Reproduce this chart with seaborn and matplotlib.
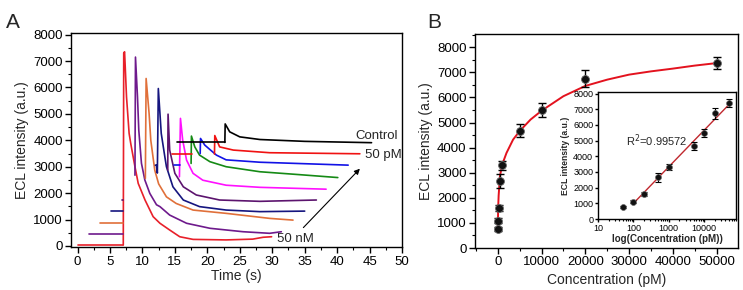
import numpy as np
import pandas as pd
import matplotlib
matplotlib.use("Agg")
import matplotlib.pyplot as plt
import seaborn as sns
from matplotlib.ticker import MultipleLocator, LogLocator, NullFormatter

# ---------------- Panel A data (time traces) ----------------
curve_colors = ["#e8202a", "#6e1a8c", "#e0703a", "#15157f", "#5c146e",
                "#ff10ff", "#158a15", "#1212e6", "#f01212", "#000000"]

# visible pre-step baselines: (start, end, level)
base_start = [0.1, 1.8, 3.4, 5.1, 6.8, None, None, 14.8, 14.5, 15.3]
base_end   = [7.05, 7.0, 7.0, 7.0, 7.0, None, None, 15.8, 17.6, 22.7]
base_level = [40, 440, 880, 1335, 1740, None, None, 3060, 3500, 3920]

t1 = [7.05, 7.12, 7.25, 7.55, 7.95, 8.2, 8.85, 9.35, 10.4, 11.65, 12.7, 14.2, 15.75, 17.8, 22.9, 27.0, 28.6, 29.9]
y1 = [40, 7300, 7350, 5640, 4260, 3880, 3000, 2370, 1740, 1110, 860, 605, 350, 250, 230, 260, 330, 350]
t2 = [8.85, 8.93, 9.24, 9.44, 9.85, 10.37, 11.14, 12.17, 12.7, 14.2, 16.8, 20.4, 25.5, 29.6, 31.4]
y2 = [2680, 7150, 5640, 4380, 3130, 2500, 1990, 1560, 1490, 1170, 860, 670, 540, 480, 540]
t3 = [10.45, 10.57, 11.03, 11.29, 11.9, 12.5, 13.7, 15.2, 17.8, 22.9, 29.6, 33.2]
y3 = [2560, 6340, 5010, 4000, 2870, 2350, 1860, 1610, 1360, 1235, 1045, 980]
t4 = [12.0, 12.15, 12.3, 12.45, 12.9, 13.45, 13.7, 14.7, 16.3, 18.8, 22.9, 28.1, 35.0]
y4 = [3060, 3060, 2760, 5960, 4260, 3380, 3000, 2240, 1740, 1490, 1360, 1300, 1320]
t5 = [13.9, 13.95, 14.2, 15.0, 16.3, 18.3, 21.9, 28.1, 36.8]
y5 = [2870, 4990, 3630, 2750, 2240, 1930, 1740, 1690, 1740]
t6 = [15.7, 15.86, 16.2, 16.8, 17.8, 19.3, 22.9, 28.1, 38.3]
y6 = [2620, 4830, 4010, 3250, 2750, 2490, 2300, 2220, 2150]
t7 = [17.5, 17.55, 18.07, 18.8, 20.4, 22.9, 28.1, 34.2, 40.1]
y7 = [3125, 4160, 3750, 3440, 3190, 3000, 2810, 2700, 2590]
t8 = [18.9, 18.95, 19.6, 20.4, 21.4, 22.9, 28.1, 41.7]
y8 = [3500, 4070, 3820, 3650, 3440, 3260, 3170, 3060]
t9 = [21.1, 21.15, 21.9, 24.0, 29.6, 43.5]
y9 = [3480, 4180, 3750, 3630, 3530, 3490]
t10 = [22.7, 22.75, 23.45, 25.0, 28.1, 35.0, 45.3]
y10 = [3920, 4620, 4320, 4130, 4030, 3960, 3910]

curve_t = [t1, t2, t3, t4, t5, t6, t7, t8, t9, t10]
curve_y = [y1, y2, y3, y4, y5, y6, y7, y8, y9, y10]

# ---------------- Panel B data ----------------
conc = [50, 100, 200, 500, 1000, 5000, 10000, 20000, 50000]
ecl = [770, 1090, 1600, 2660, 3300, 4680, 5500, 6750, 7380]
ecl_err = [80, 100, 120, 270, 180, 250, 270, 350, 250]

fit_x = [0, 50, 100, 200, 500, 1000, 2000, 3500, 5000, 7500, 10000, 15000,
         20000, 25000, 30000, 35000, 40000, 45000, 50000]
fit_y = [700, 1150, 1620, 2080, 2860, 3320, 3790, 4320, 4660, 5120, 5470, 6050,
         6460, 6710, 6910, 7040, 7150, 7270, 7370]

lin_x = [100, 55000]
lin_y = [1000, 7390]

# ---------------- Figure ----------------
sns.set_theme(style="ticks")
plt.rcParams["font.family"] = ["Liberation Sans", "DejaVu Sans"]
plt.rcParams["axes.linewidth"] = 1.0
plt.rcParams["xtick.major.size"] = 4
plt.rcParams["ytick.major.size"] = 4
plt.rcParams["xtick.minor.size"] = 2.2
plt.rcParams["ytick.minor.size"] = 2.2
plt.rcParams["xtick.major.width"] = 1.0
plt.rcParams["ytick.major.width"] = 1.0
plt.rcParams["xtick.minor.width"] = 0.8
plt.rcParams["ytick.minor.width"] = 0.8
plt.rcParams["xtick.direction"] = "out"
plt.rcParams["ytick.direction"] = "out"
plt.rcParams["xtick.color"] = "black"
plt.rcParams["ytick.color"] = "black"

fig = plt.figure(figsize=(7.43, 2.90), dpi=100)
fig.patch.set_facecolor("white")

axA = fig.add_axes([0.0956, 0.1472, 0.4455, 0.738])
for i in range(10):
    c = curve_colors[i]
    if base_start[i] is not None:
        dfb = pd.DataFrame({"t": [base_start[i], base_end[i]],
                            "y": [base_level[i], base_level[i]]})
        sns.lineplot(data=dfb, x="t", y="y", ax=axA, color=c, lw=1.2,
                     sort=False, estimator=None)
    df = pd.DataFrame({"t": curve_t[i], "y": curve_y[i]})
    sns.lineplot(data=df, x="t", y="y", ax=axA, color=c, lw=1.2,
                 sort=False, estimator=None)

axA.set_xlim(-1, 50)
axA.set_ylim(-50, 8050)
axA.xaxis.set_major_locator(MultipleLocator(5))
axA.xaxis.set_minor_locator(MultipleLocator(2.5))
axA.yaxis.set_major_locator(MultipleLocator(1000))
axA.yaxis.set_minor_locator(MultipleLocator(500))
axA.set_xlabel("Time (s)", fontsize=10, labelpad=1)
axA.set_ylabel("ECL intensity (a.u.)", fontsize=10, labelpad=3)
axA.tick_params(labelsize=9.5, pad=2)
for s in axA.spines.values():
    s.set_visible(True)
    s.set_color("black")

axA.text(49.4, 4150, "Control", fontsize=9.5, ha="right", va="center")
axA.text(44.3, 3450, "50 pM", fontsize=9.5, ha="left", va="center")
axA.text(30.8, 280, "50 nM", fontsize=9.5, ha="left", va="center")
axA.annotate("", xy=(43.8, 3000), xytext=(34.5, 620),
             arrowprops=dict(arrowstyle="-|>", color="black", lw=0.8,
                             mutation_scale=8))

# Panel B
axB = fig.add_axes([0.6393, 0.1448, 0.354, 0.738])
dff = pd.DataFrame({"x": fit_x, "y": fit_y})
sns.lineplot(data=dff, x="x", y="y", ax=axB, color="#e3121e", lw=1.4,
             sort=False, estimator=None)
axB.errorbar(conc, ecl, yerr=ecl_err, fmt="none", ecolor="black",
             elinewidth=1.0, capsize=3, capthick=1.0, zorder=3)
dfp = pd.DataFrame({"x": conc, "y": ecl})
sns.scatterplot(data=dfp, x="x", y="y", ax=axB, color="#111111", s=32,
                edgecolor="#666666", linewidth=0.6, zorder=4)
axB.set_xlim(-5200, 54900)
axB.set_ylim(0, 8530)
axB.xaxis.set_major_locator(MultipleLocator(10000))
axB.xaxis.set_minor_locator(MultipleLocator(5000))
axB.yaxis.set_major_locator(MultipleLocator(1000))
axB.yaxis.set_minor_locator(MultipleLocator(500))
axB.set_xlabel("Concentration (pM)", fontsize=10, labelpad=3)
axB.set_ylabel("ECL intensity (a.u.)", fontsize=10, labelpad=3)
axB.tick_params(labelsize=9.5, pad=2)
for s in axB.spines.values():
    s.set_visible(True)
    s.set_color("black")

# Inset
axI = fig.add_axes([0.805, 0.2448, 0.1857, 0.438])
dfl = pd.DataFrame({"x": lin_x, "y": lin_y})
sns.lineplot(data=dfl, x="x", y="y", ax=axI, color="#c0282e", lw=1.0,
             sort=False, estimator=None)
axI.errorbar(conc, ecl, yerr=ecl_err, fmt="none", ecolor="black",
             elinewidth=0.8, capsize=2, capthick=0.8, zorder=3)
sns.scatterplot(data=dfp, x="x", y="y", ax=axI, color="#111111", s=18,
                edgecolor="#666666", linewidth=0.5, zorder=4)
axI.set_xscale("log")
axI.set_xlim(10, 80000)
axI.set_ylim(0, 8100)
axI.set_xticks([10, 100, 1000, 10000])
axI.set_xticklabels(["10", "100", "1000", "10000"])
axI.xaxis.set_minor_locator(LogLocator(base=10, subs=np.arange(2, 10)))
axI.xaxis.set_minor_formatter(NullFormatter())
axI.yaxis.set_major_locator(MultipleLocator(1000))
axI.tick_params(labelsize=6.5, pad=1, length=2.5)
axI.tick_params(which="minor", length=1.5)
axI.set_xlabel("log(Concentration (pM))", fontsize=7, fontweight="bold", labelpad=1)
axI.set_ylabel("ECL intensity (a.u.)", fontsize=6.2, fontweight="bold", labelpad=2)
axI.text(60, 5000, r"R$^2$=0.99572", fontsize=8, ha="left", va="center")
for s in axI.spines.values():
    s.set_visible(True)
    s.set_color("black")

fig.text(0.008, 0.955, "A", fontsize=15, ha="left", va="top")
fig.text(0.575, 0.955, "B", fontsize=15, ha="left", va="top")

fig.savefig("out.png", dpi=100, facecolor="white")
